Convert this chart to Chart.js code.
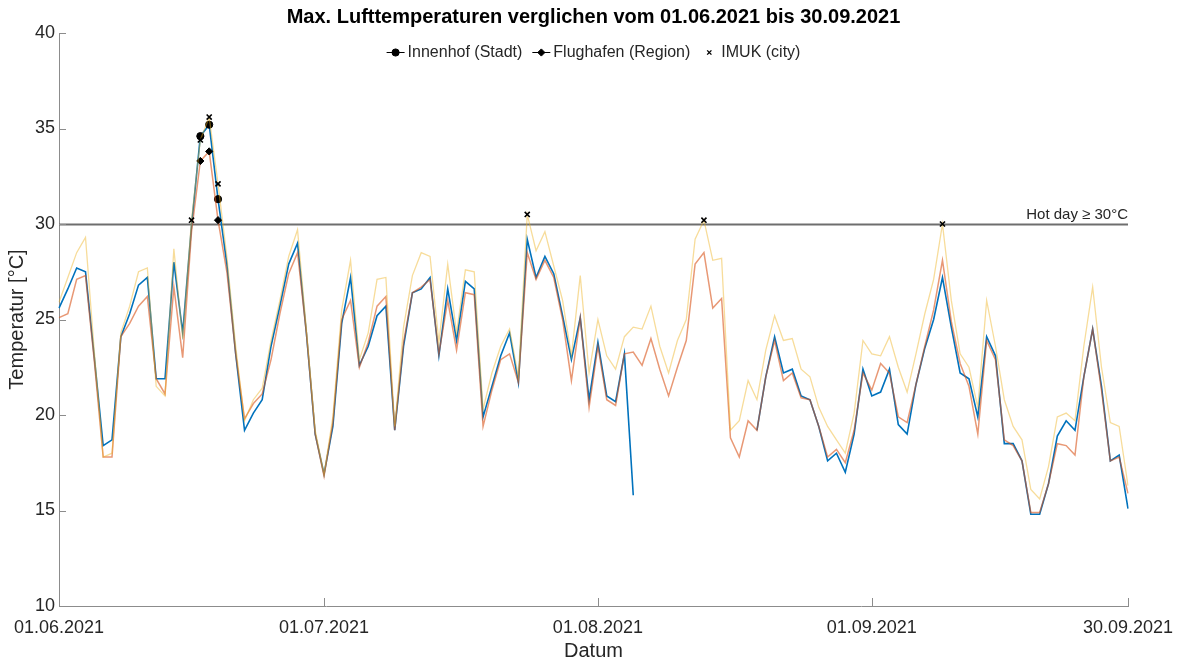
<!DOCTYPE html>
<html>
<head>
<meta charset="utf-8">
<script src="https://cdn.jsdelivr.net/npm/chart.js@4.4.1/dist/chart.umd.min.js"></script>
<style>
  html, body { margin: 0; padding: 0; background: #fff; }
  #wrap { width: 1179px; height: 661px; position: relative; }
</style>
</head>
<body>
<div id="wrap"><canvas id="c" width="1179" height="661"></canvas></div>
<script>
const FONT = '"Liberation Sans", Arial, Helvetica, sans-serif';
const chartTitle = 'Max. Lufttemperaturen verglichen vom 01.06.2021 bis 30.09.2021';
const xTitle = 'Datum';
const yTitle = 'Temperatur [°C]';
const seriesNames = ['Innenhof (Stadt)', 'Flughafen (Region)', 'IMUK (city)'];
const hotThreshold = 30;
const hotLabel = 'Hot day \u2265 30°C';
const xTickLabels = ['01.06.2021', '01.07.2021', '01.08.2021', '01.09.2021', '30.09.2021'];
const yTickValues = [10, 15, 20, 25, 30, 35, 40];

// daily categories 01.06.2021 .. 30.09.2021
const days = [];
for (let d = new Date(Date.UTC(2021, 5, 1)); d <= new Date(Date.UTC(2021, 8, 30)); d.setUTCDate(d.getUTCDate() + 1)) {
  days.push(String(d.getUTCDate()).padStart(2, '0') + '.' + String(d.getUTCMonth() + 1).padStart(2, '0') + '.' + d.getUTCFullYear());
}

// daily maximum temperatures [°C]
const innenhof = [
  25.6, 26.6, 27.7, 27.5, 23.0, 18.4, 18.7, 24.1, 25.3, 26.8,
  27.2, 21.9, 21.9, 28.0, 24.3, 29.9, 34.6, 35.2, 31.3, 27.9,
  23.2, 19.2, 20.1, 20.8, 23.6, 25.7, 27.9, 29.0, 24.3, 19.0,
  16.9, 19.4, 24.8, 27.2, 22.6, 23.6, 25.2, 25.7, 19.2, 23.6,
  26.4, 26.6, 27.2, 23.1, 26.6, 23.9, 27.0, 26.6, 19.9, 21.5,
  23.1, 24.3, 21.7, 29.2, 27.2, 28.3, 27.4, 25.2, 22.9, 25.1,
  20.8, 23.8, 21.0, 20.7, 23.2, 15.8, null, null, null, null,
  null, null, null, null, null, null, null, null, null, 19.2,
  22.0, 24.1, 22.2, 22.4, 21.0, 20.8, 19.4, 17.6, 18.0, 17.0,
  19.0, 22.4, 21.0, 21.2, 22.4, 19.5, 19.0, 21.6, 23.5, 25.0,
  27.2, 24.6, 22.2, 21.9, 19.9, 24.1, 23.1, 18.5, 18.5, 17.6,
  14.8, 14.8, 16.4, 18.9, 19.7, 19.2, 22.0, 24.5, 21.5, 17.6,
  17.9, 15.1
];
const flughafen = [
  25.1, 25.3, 27.1, 27.3, 22.8, 17.8, 17.8, 24.1, 24.8, 25.7,
  26.2, 21.9, 21.1, 26.7, 23.0, 29.6, 33.3, 33.8, 30.2, 27.5,
  23.2, 19.8, 20.6, 21.1, 22.9, 25.3, 27.4, 28.5, 24.3, 19.0,
  16.8, 19.6, 25.0, 26.0, 22.5, 23.8, 25.7, 26.2, 19.2, 23.8,
  26.4, 26.7, 27.1, 23.2, 26.0, 23.4, 26.4, 26.3, 19.4, 21.3,
  22.9, 23.2, 21.7, 28.5, 27.1, 28.1, 27.2, 25.0, 21.8, 25.1,
  20.4, 23.6, 20.8, 20.5, 23.2, 23.3, 22.6, 24.0, 22.4, 21.0,
  22.5, 23.9, 27.9, 28.5, 25.6, 26.1, 18.8, 17.8, 19.7, 19.2,
  22.0, 23.9, 21.8, 22.2, 20.9, 20.8, 19.4, 17.8, 18.2, 17.5,
  19.2, 22.2, 21.3, 22.7, 22.2, 19.9, 19.6, 21.6, 23.6, 25.5,
  28.1, 24.9, 22.7, 21.5, 19.0, 23.9, 22.9, 18.7, 18.4, 17.6,
  14.9, 14.9, 16.4, 18.5, 18.4, 17.9, 22.0, 24.5, 21.3, 17.6,
  17.8, 15.9
];
const imuk = [
  25.9, 27.2, 28.5, 29.3, 23.3, 17.8, 18.0, 24.3, 25.7, 27.5,
  27.7, 21.5, 21.0, 28.7, 24.0, 30.2, 34.4, 35.6, 32.1, 28.3,
  23.6, 19.7, 20.8, 21.4, 23.9, 26.0, 28.3, 29.7, 24.5, 19.2,
  16.9, 19.9, 25.5, 28.1, 22.9, 24.3, 27.1, 27.2, 19.4, 24.6,
  27.3, 28.5, 28.3, 23.8, 27.9, 24.3, 27.6, 27.5, 20.3, 22.2,
  23.6, 24.5, 22.0, 30.5, 28.6, 29.6, 27.8, 26.0, 23.1, 27.3,
  22.2, 25.0, 23.1, 22.4, 24.1, 24.6, 24.5, 25.7, 23.6, 22.2,
  23.9, 25.0, 29.2, 30.2, 28.1, 28.2, 19.2, 19.7, 21.8, 20.8,
  23.4, 25.2, 23.9, 24.0, 22.4, 22.0, 20.4, 19.4, 18.7, 18.0,
  20.1, 23.9, 23.2, 23.1, 24.1, 22.5, 21.2, 23.2, 25.3, 27.1,
  30.0, 26.0, 23.2, 22.5, 20.4, 26.0, 23.6, 20.8, 19.4, 18.7,
  16.1, 15.6, 17.3, 19.9, 20.1, 19.7, 23.6, 26.7, 22.5, 19.6,
  19.4, 16.3
];

const AXIS = '#8c8c8c';
const TEXT = '#262626';
const markerStyles = ['circle', 'rectRot', 'crossRot'];

// black markers only on hot days
const hotRadius = (c) => (c.raw != null && c.raw >= hotThreshold) ? 3.6 : 0;

function series(label, data, color, width, style, order) {
  return {
    label, data, order,
    borderColor: color,
    borderWidth: width,
    tension: 0,
    spanGaps: false,
    pointStyle: style,
    pointRadius: hotRadius,
    pointHoverRadius: 0,
    pointBackgroundColor: '#000',
    pointBorderColor: '#000',
    pointBorderWidth: style === 'crossRot' ? 1.6 : 1
  };
}

// hot-day reference line, inward tick marks, title and legend
const decorations = {
  id: 'decorations',
  beforeDatasetsDraw(chart) {
    const { ctx, chartArea: a, scales: { y } } = chart;
    const yy = Math.round(y.getPixelForValue(hotThreshold)) + 0.5;
    ctx.save();
    ctx.strokeStyle = '#6e6e6e';
    ctx.lineWidth = 2;
    ctx.beginPath();
    ctx.moveTo(a.left, yy);
    ctx.lineTo(a.right, yy);
    ctx.stroke();
    ctx.fillStyle = TEXT;
    ctx.font = '15px ' + FONT;
    ctx.textAlign = 'right';
    ctx.textBaseline = 'alphabetic';
    ctx.fillText(hotLabel, a.right, yy - 6);
    ctx.restore();
  },
  afterDraw(chart) {
    const { ctx, chartArea: a, scales: { x, y } } = chart;
    ctx.save();
    ctx.strokeStyle = AXIS;
    ctx.lineWidth = 1;
    ctx.beginPath();
    yTickValues.forEach(v => {
      const py = Math.round(y.getPixelForValue(v)) + 0.5;
      ctx.moveTo(a.left, py);
      ctx.lineTo(a.left + 7, py);
    });
    xTickLabels.forEach(lbl => {
      const px = Math.round(x.getPixelForValue(days.indexOf(lbl))) + 0.5;
      ctx.moveTo(px, a.bottom);
      ctx.lineTo(px, a.bottom - 8);
    });
    ctx.stroke();

    const cx = (a.left + a.right) / 2;
    ctx.fillStyle = '#000';
    ctx.font = 'bold 20px ' + FONT;
    ctx.textAlign = 'center';
    ctx.textBaseline = 'middle';
    ctx.fillText(chartTitle, cx, 17);

    ctx.font = '16px ' + FONT;
    ctx.textAlign = 'left';
    const iconW = 18, gap = 3, sep = 10;
    const widths = seriesNames.map(n => ctx.measureText(n).width);
    const total = widths.reduce((s, w) => s + iconW + gap + w, 0) + sep * (seriesNames.length - 1);
    let lx = cx - total / 2;
    const ly = 52;
    seriesNames.forEach((name, i) => {
      ctx.strokeStyle = '#000';
      ctx.fillStyle = '#000';
      if (i < 2) {
        ctx.lineWidth = 1;
        ctx.beginPath();
        ctx.moveTo(lx, ly + 0.5);
        ctx.lineTo(lx + iconW, ly + 0.5);
        ctx.stroke();
      }
      ctx.lineWidth = i === 2 ? 1.4 : 1;
      Chart.helpers.drawPoint(ctx, { pointStyle: markerStyles[i], radius: i === 2 ? 3 : 3.6, borderWidth: 1, rotation: 0 }, lx + iconW / 2, ly + 0.5);
      ctx.fillStyle = TEXT;
      ctx.fillText(name, lx + iconW + gap, ly + 1);
      lx += iconW + gap + widths[i] + sep;
    });
    ctx.restore();
  }
};

new Chart(document.getElementById('c'), {
  type: 'line',
  data: {
    labels: days,
    datasets: [
      series(seriesNames[0], innenhof, '#0072BD', 1.6, markerStyles[0], 3),
      series(seriesNames[1], flughafen, 'rgba(217,83,25,0.6)', 1.5, markerStyles[1], 2),
      series(seriesNames[2], imuk, 'rgba(237,177,32,0.45)', 1.3, markerStyles[2], 1)
    ]
  },
  options: {
    responsive: false,
    animation: false,
    devicePixelRatio: 1,
    events: [],
    layout: { padding: { top: 33, left: 0, right: 51, bottom: 0 } },
    plugins: {
      legend: { display: false },
      title: { display: false },
      tooltip: { enabled: false }
    },
    scales: {
      x: {
        type: 'category',
        offset: false,
        grid: { display: false, drawTicks: false },
        border: { display: true, color: AXIS, width: 1 },
        ticks: {
          autoSkip: false,
          maxRotation: 0,
          padding: 11,
          color: TEXT,
          font: { family: FONT, size: 18 },
          callback(v, i) { return xTickLabels.includes(days[i]) ? days[i] : null; }
        },
        title: { display: true, text: xTitle, color: TEXT, font: { family: FONT, size: 20, lineHeight: 1 }, padding: 0 },
        afterFit(s) {
          s.height = 55;
          // end labels overhang into the layout padding
          s.paddingLeft = 0;
          s.paddingRight = 0;
        }
      },
      y: {
        min: 10,
        max: 40,
        grid: { display: false, drawTicks: false },
        border: { display: true, color: AXIS, width: 1 },
        ticks: { stepSize: 5, padding: 4, color: TEXT, font: { family: FONT, size: 18 } },
        title: { display: true, text: yTitle, color: TEXT, font: { family: FONT, size: 20, lineHeight: 1 }, padding: { top: 7, bottom: 0 } },
        afterFit(s) { s.width = 59; }
      }
    }
  },
  plugins: [decorations]
});
</script>
</body>
</html>
